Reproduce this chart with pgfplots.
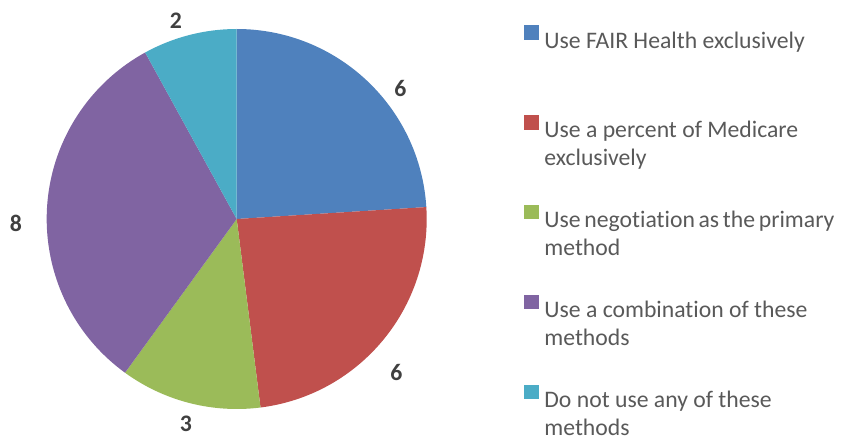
\documentclass[border=0pt]{standalone}
\usepackage{pgfplots}
\usepackage{pgfplotstable}
\pgfplotsset{compat=1.18}
\usepackage{fontspec}
\setmainfont[Ligatures=NoCommon]{Carlito}
\definecolor{cA}{HTML}{4F81BD}
\definecolor{cB}{HTML}{C0504D}
\definecolor{cC}{HTML}{9BBB59}
\definecolor{cD}{HTML}{8064A2}
\definecolor{cE}{HTML}{4BACC6}
\definecolor{legtext}{HTML}{595959}
\definecolor{labtext}{HTML}{404040}

\pgfplotstableread{
value lx ly
6 400.5 348.5
6 396.5 64.5
3 186 13
8 16 213.5
2 176 416.5
}\piedata

% cumulative angles (clockwise from 12 o'clock)
\gdef\total{0}
\pgfplotstableforeachcolumnelement{value}\of\piedata\as\v{%
  \pgfmathsetmacro\t{\total+\v}\xdef\total{\t}}
\gdef\cum{0}
\pgfplotstableforeachcolumnelement{value}\of\piedata\as\v{%
  \pgfmathsetmacro\a{90-360*\cum/\total}%
  \pgfmathsetmacro\newcum{\cum+\v}%
  \pgfmathsetmacro\b{90-360*\newcum/\total}%
  \expandafter\xdef\csname sa\pgfplotstablerow\endcsname{\a}%
  \expandafter\xdef\csname sb\pgfplotstablerow\endcsname{\b}%
  \xdef\cum{\newcum}}
\def\R{190}
\def\cx{236.7}
\def\cy{218}
\newcommand\slice[2]{%
  \fill[#2] (axis cs:\cx,\cy) -- ([shift={(\csname sa#1\endcsname:\R pt)}]axis cs:\cx,\cy)
    arc[start angle=\csname sa#1\endcsname, end angle=\csname sb#1\endcsname, radius=\R pt] -- cycle;}

\begin{document}%
\begin{tikzpicture}
\begin{axis}[
  scale only axis, width=848pt, height=437pt,
  xmin=0, xmax=848, ymin=0, ymax=437,
  hide axis, clip=false,
  legend style={at={(axis cs:524,411.6)}, anchor=north west, draw=none, fill=none,
    inner sep=0pt, outer sep=0pt, row sep=65.6pt,
    font=\fontsize{23.7}{28}\selectfont\color{legtext},
    nodes={inner sep=0pt, outer sep=0pt}},
  legend cell align=left,
  legend image code/.code={\fill[#1] (0pt,1.5pt) rectangle (13.5pt,15pt); \path (20pt,1.5pt);},
]
\slice{0}{cA}
\slice{1}{cB}
\slice{2}{cC}
\slice{3}{cD}
\slice{4}{cE}
\addplot[forget plot, only marks, mark=none,
  nodes near coords={\textbf{\pgfplotspointmeta}},
  point meta=explicit symbolic,
  nodes near coords style={anchor=center, font=\fontsize{23.7}{28}\selectfont\bfseries, text=labtext}]
  table[x=lx, y=ly, meta=value] {\piedata};
\coordinate (bl) at (axis cs:0,0);
\coordinate (tr) at (axis cs:848,437);
\addlegendimage{cA}
\addlegendentry{\parbox[t]{290pt}{Use FAIR Health exclusively}}
\addlegendimage{cB}
\addlegendentry{\parbox[t]{290pt}{Use a percent of Medicare\\exclusively}}
\addlegendimage{cC}
\addlegendentry{\parbox[t]{290pt}{Use negotiation as the primary\\method}}
\addlegendimage{cD}
\addlegendentry{\parbox[t]{290pt}{Use a combination of these\\methods}}
\addlegendimage{cE}
\addlegendentry{\parbox[t]{290pt}{Do not use any of these\\methods}}
\end{axis}
\pgfresetboundingbox
\path (bl) rectangle (tr);
\end{tikzpicture}%
\end{document}
